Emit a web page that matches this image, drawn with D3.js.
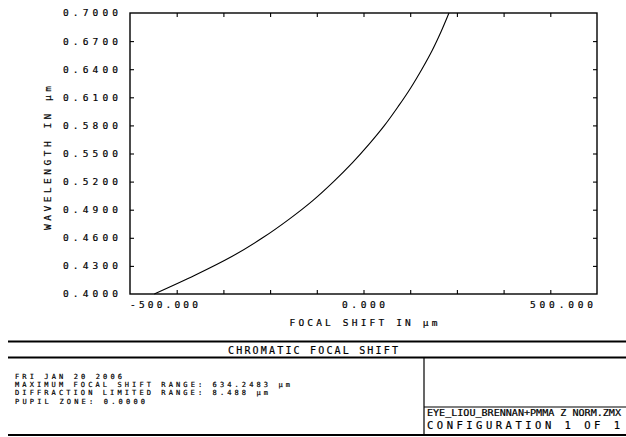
<!DOCTYPE html>
<html><head><meta charset="utf-8">
<script src="https://cdn.jsdelivr.net/npm/d3@7"></script>
<style>
html,body{margin:0;padding:0;background:#fff;}
svg{display:block;}
text{font-family:"DejaVu Sans Mono","Liberation Mono",monospace;fill:#000;stroke:#000;stroke-width:0.2px;}
</style></head><body>
<svg id="c" width="626" height="437"></svg>
<script>
// Data
const wavelengths = [0.40, 0.42, 0.44, 0.46, 0.48, 0.50, 0.52, 0.54, 0.56, 0.58, 0.60, 0.62, 0.64, 0.66, 0.68, 0.70];
const focalShifts = [-448, -361, -282, -216, -159, -108, -64, -24, 12, 45, 74, 101, 125, 147, 166, 183];
const yTickValues = [0.40, 0.43, 0.46, 0.49, 0.52, 0.55, 0.58, 0.61, 0.64, 0.67, 0.70];
const xTickValues = [-400, -300, -200, -100, 0, 100, 200, 300, 400];
const xLabelValues = [-500, 0, 500];
const infoLines = ["FRI JAN 20 2006", "MAXIMUM FOCAL SHIFT RANGE: 634.2483 µm", "DIFFRACTION LIMITED RANGE: 8.488 µm", "PUPIL ZONE: 0.0000"];
const titleText = "CHROMATIC FOCAL SHIFT";
const fileText = "EYE_LIOU_BRENNAN+PMMA Z NORM.ZMX";
const configText = "CONFIGURATION 1 OF 1";

const svg = d3.select("#c");
const L = 130, R = 597, T = 13, B = 294;
const x = d3.scaleLinear().domain([-500, 500]).range([L, R]);
const y = d3.scaleLinear().domain([0.40, 0.70]).range([B, T]);

// Frame
svg.append("rect").attr("x", L).attr("y", T).attr("width", R - L).attr("height", B - T)
  .attr("fill", "none").attr("stroke", "#000").attr("stroke-width", 1.4);

// Axes (ticks inward, no labels from d3 axis)
const tl = 4;
const axes = svg.append("g").attr("class", "ticks");
axes.append("g").attr("transform", `translate(0,${B})`)
  .call(d3.axisTop(x).tickValues(xTickValues).tickSize(tl).tickFormat(""));
axes.append("g").attr("transform", `translate(0,${T})`)
  .call(d3.axisBottom(x).tickValues(xTickValues).tickSize(tl).tickFormat(""));
const innerY = yTickValues.slice(1, -1);
axes.append("g").attr("transform", `translate(${L},0)`)
  .call(d3.axisRight(y).tickValues(innerY).tickSize(tl).tickFormat(""));
axes.append("g").attr("transform", `translate(${R},0)`)
  .call(d3.axisLeft(y).tickValues(innerY).tickSize(tl).tickFormat(""));
axes.selectAll(".domain").remove();
axes.selectAll("line").attr("stroke", "#000").attr("stroke-width", 1.1);

// Y tick labels
svg.append("g").selectAll("text").data(yTickValues).join("text")
  .attr("x", 118).attr("y", d => y(d) + 3.4)
  .attr("text-anchor", "end").attr("font-size", 9.5)
  .attr("textLength", 55).attr("lengthAdjust", "spacing")
  .text(d => d.toFixed(4));

// X labels (left, center, right aligned like Zemax)
const xl = svg.append("g");
xLabelValues.forEach((v, i) => {
  const s = v.toFixed(3);
  const w = [68, 43, 63][i];
  const anchor = ["start", "middle", "end"][i];
  const px = i === 2 ? x(v) - 4 : x(v);
  xl.append("text").attr("x", px).attr("y", 307.5)
    .attr("text-anchor", anchor).attr("font-size", 9.5)
    .attr("textLength", w).attr("lengthAdjust", "spacing").text(s);
});

// Axis titles
svg.append("text").attr("x", (L + R) / 2).attr("y", 325.5).attr("text-anchor", "middle")
  .attr("font-size", 9.5).attr("textLength", 148).attr("lengthAdjust", "spacing")
  .text("FOCAL SHIFT IN µm");
svg.append("text").attr("transform", `translate(51,158) rotate(-90)`).attr("text-anchor", "middle")
  .attr("font-size", 9.5).attr("textLength", 144).attr("lengthAdjust", "spacing")
  .text("WAVELENGTH IN µm");

// Curve
const pts = wavelengths.map((w, i) => [focalShifts[i], w]);
const line = d3.line().x(d => x(d[0])).y(d => y(d[1])).curve(d3.curveMonotoneY);
svg.append("path").datum(pts).attr("d", line).attr("fill", "none")
  .attr("stroke", "#000").attr("stroke-width", 1.1);

// Bottom info box
const bx0 = 8, bx1 = 626;
[341.5, 357.5, 435].forEach(yy => {
  svg.append("line").attr("x1", bx0).attr("x2", bx1).attr("y1", yy).attr("y2", yy)
    .attr("stroke", "#000").attr("stroke-width", 2);
});
svg.append("line").attr("x1", 424).attr("x2", 424).attr("y1", 357.5).attr("y2", 435)
  .attr("stroke", "#000").attr("stroke-width", 1.2);
svg.append("line").attr("x1", 424).attr("x2", 626).attr("y1", 407).attr("y2", 407)
  .attr("stroke", "#000").attr("stroke-width", 1.2);

svg.append("text").attr("x", 313).attr("y", 353.5).attr("text-anchor", "middle")
  .attr("font-size", 10).attr("textLength", 170).attr("lengthAdjust", "spacing").text(titleText);

const infoW = [107, 275, 253, 130];
svg.append("g").selectAll("text").data(infoLines).join("text")
  .attr("x", 15).attr("y", (d, i) => 379 + i * 8.2)
  .attr("font-size", 7).attr("textLength", (d, i) => infoW[i]).attr("lengthAdjust", "spacing")
  .text(d => d);

svg.append("text").attr("x", 427).attr("y", 415.5).attr("font-size", 8.2)
  .attr("textLength", 194).attr("lengthAdjust", "spacingAndGlyphs").text(fileText);
svg.append("text").attr("x", 427).attr("y", 428.5).attr("font-size", 10.5)
  .attr("textLength", 193).attr("lengthAdjust", "spacing").text(configText);
</script>
</body></html>
